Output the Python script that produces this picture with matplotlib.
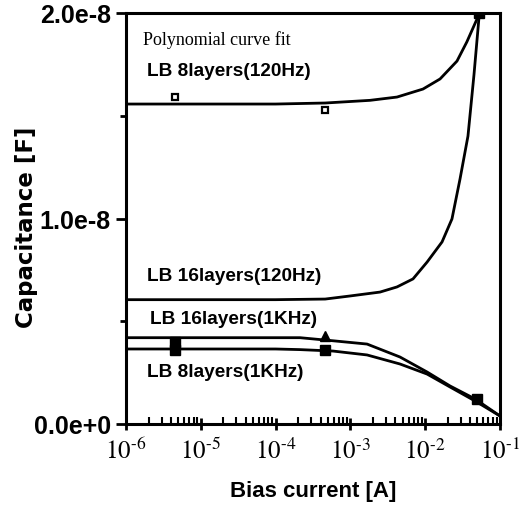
import numpy as np
import matplotlib
matplotlib.use("Agg")
import matplotlib.pyplot as plt
from matplotlib.ticker import LogLocator, NullFormatter, FixedLocator

plt.rcParams['mathtext.fontset'] = 'stix'

# curve points (capacitance in units of 1e-8 F)
x_8_120 = [1e-6, 1e-5, 1e-4, 4.6e-4, 1.83e-3, 4.2e-3, 9.35e-3, 1.58e-2, 2.66e-2, 3.6e-2, 4.93e-2, 5.3e-2]
c8_120 = [1.557, 1.557, 1.557, 1.562, 1.575, 1.591, 1.630, 1.679, 1.766, 1.859, 1.971, 2.0]

x_16_120 = [1e-6, 1e-5, 1e-4, 4.6e-4, 9.9e-4, 2.49e-3, 4.2e-3, 6.87e-3, 1.06e-2, 1.68e-2,
            2.28e-2, 2.92e-2, 3.73e-2, 4.49e-2, 5.3e-2]
c16_120 = [0.605, 0.605, 0.605, 0.608, 0.623, 0.642, 0.667, 0.706, 0.788, 0.886,
           0.998, 1.192, 1.401, 1.7, 2.0]

x_1k = [1e-6, 1e-5, 1e-4, 2.12e-4, 5.85e-4, 1.67e-3, 4.6e-3, 1.06e-2, 2.15e-2, 4.64e-2, 1e-1]
c16_1k = [0.42, 0.42, 0.42, 0.42, 0.405, 0.389, 0.326, 0.253, 0.185, 0.122, 0.039]
c8_1k = [0.365, 0.365, 0.365, 0.362, 0.355, 0.336, 0.292, 0.243, 0.180, 0.112, 0.039]

# measured points
open_x = [4.5e-6, 4.6e-4]
open_y = [1.59, 1.53]
sq_x = [5.3e-2, 4.5e-6, 4.5e-6, 4.6e-4, 4.9e-2]
sq_y = [2.0, 0.40, 0.36, 0.36, 0.12]
tri_x = [4.6e-4]
tri_y = [0.43]

exps = [6, 5, 4, 3, 2, 1]

fig = plt.figure(figsize=(5.26, 5.10), dpi=100)
ax = fig.add_axes([126/526, 1-425/510, 374/526, 411/510])

s = 1e-8
for xx, yy in [(x_8_120, c8_120), (x_16_120, c16_120), (x_1k, c16_1k), (x_1k, c8_1k)]:
    ax.plot(xx, np.array(yy)*s, color='black', lw=2)

ax.plot(open_x, np.array(open_y)*s, 's', ms=5, mfc='white', mec='black', mew=1.6)
ax.plot(sq_x, np.array(sq_y)*s, 's', ms=7, color='black')
ax.plot(tri_x, np.array(tri_y)*s, '^', ms=7, color='black')

ax.set_xscale('log')
ax.set_xlim(1e-6, 1e-1)
ax.set_ylim(0, 2e-8)

ax.set_xticks([10.0**-e for e in exps])
ax.set_xticklabels([r'$10^{\text{-%d}}$' % e for e in exps], fontsize=18)
ax.xaxis.set_minor_locator(LogLocator(base=10, subs=np.arange(2, 10)))
ax.xaxis.set_minor_formatter(NullFormatter())

ax.set_yticks([0, 1e-8, 2e-8])
ax.set_yticklabels(['0.0e+0', '1.0e-8', '2.0e-8'], fontsize=18,
                   fontweight='bold', family='Liberation Sans')
ax.yaxis.set_minor_locator(FixedLocator([0.5e-8, 1.5e-8]))

ax.tick_params(axis='x', which='major', direction='inout', length=8, width=2, pad=6)
ax.tick_params(axis='x', which='minor', direction='in', length=5, width=1.5)
ax.tick_params(axis='y', which='major', direction='out', length=7, width=2, pad=4)
ax.tick_params(axis='y', which='minor', direction='out', length=4, width=2)

for sp in ax.spines.values():
    sp.set_linewidth(2.2)

ax.set_xlabel('Bias current [A]', fontsize=16, fontweight='bold', family='Liberation Sans')
ax.set_ylabel('Capacitance [F]', fontsize=16.5, fontweight='bold', family='DejaVu Sans')
ax.xaxis.set_label_coords(0.5, -(492-425)/411)
ax.yaxis.set_label_coords(-(126-26)/374, (425-227)/411)
ax.xaxis.label.set_va('center')
ax.yaxis.label.set_va('center')

tk = dict(transform=fig.transFigure, fontsize=13.7, fontweight='bold', family='Liberation Sans',
          va='center', ha='left')
fig.text(143/526, 1-40/510, 'Polynomial curve fit', transform=fig.transFigure,
         fontsize=13, family='Liberation Serif', va='center', ha='left')
fig.text(147/526, 1-72/510, 'LB 8layers(120Hz)', **tk)
fig.text(147/526, 1-277/510, 'LB 16layers(120Hz)', **tk)
fig.text(150/526, 1-320/510, 'LB 16layers(1KHz)', **tk)
fig.text(147/526, 1-373/510, 'LB 8layers(1KHz)', **tk)

fig.savefig('out.png', dpi=100)
